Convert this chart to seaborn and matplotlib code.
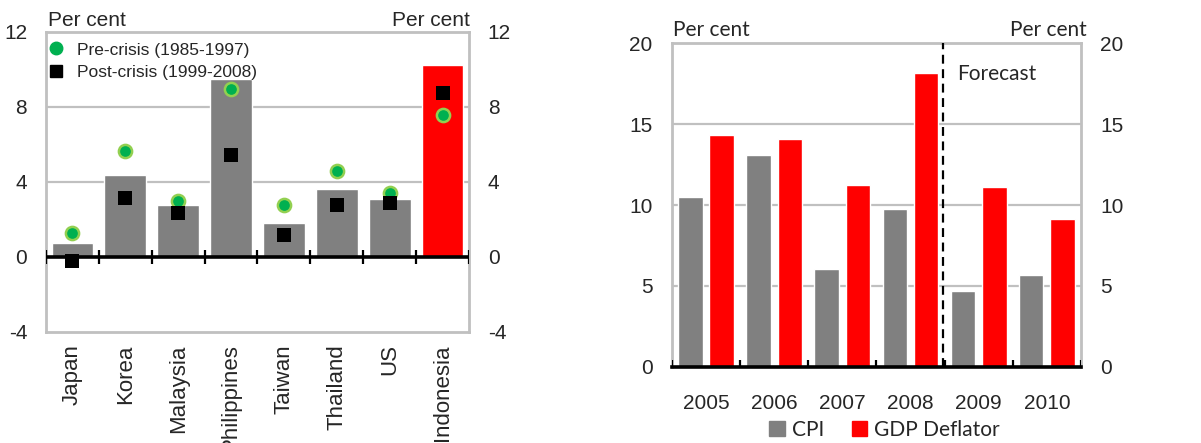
import matplotlib
matplotlib.use("Agg")
import matplotlib.pyplot as plt
import seaborn as sns
import pandas as pd
from matplotlib.lines import Line2D
from matplotlib.patches import Patch

# ---- Left panel data: average inflation by economy ----
countries = ["Japan", "Korea", "Malaysia", "Philippines", "Taiwan", "Thailand", "US", "Indonesia"]
avg_inflation = [0.75, 4.37, 2.77, 9.48, 1.81, 3.63, 3.09, 10.24]
pre_crisis = [1.3, 5.65, 2.99, 8.96, 2.77, 4.59, 3.43, 7.57]
post_crisis = [-0.2, 3.13, 2.36, 5.44, 1.17, 2.77, 2.9, 8.73]
bar_colors = ["#808080"] * 7 + ["#ff0000"]

# ---- Right panel data: Indonesia CPI vs GDP deflator ----
years = ["2005", "2006", "2007", "2008", "2009", "2010"]
cpi = [10.5, 13.09, 6.04, 9.75, 4.68, 5.67]
gdp_deflator = [14.33, 14.08, 11.24, 18.16, 11.09, 9.11]

sns.set_theme(style="white")
plt.rcParams["font.family"] = ["Liberation Sans", "DejaVu Sans"]
plt.rcParams["axes.unicode_minus"] = False

GRID = "#c0c0c0"
GREEN = "#00b050"
GREEN_EDGE = "#92d050"
CAL = ["Lato", "DejaVu Sans"]

fig = plt.figure(figsize=(12.01, 4.43), dpi=100)
ax1 = fig.add_axes([0.0383, 0.2506, 0.3522, 0.6772])
ax2 = fig.add_axes([0.5595, 0.1722, 0.3406, 0.7300])

# ================= Left panel =================
left_df = pd.DataFrame({"country": countries, "value": avg_inflation})
sns.barplot(data=left_df, x="country", y="value", hue="country",
            palette=dict(zip(countries, bar_colors)), legend=False,
            width=0.79, saturation=1, ax=ax1, zorder=2)

pre_df = pd.DataFrame({"country": countries, "value": pre_crisis})
post_df = pd.DataFrame({"country": countries, "value": post_crisis})
sns.stripplot(data=pre_df, x="country", y="value", jitter=False, marker="o",
              color=GREEN, edgecolor=GREEN_EDGE, linewidth=1.8, size=9.5,
              ax=ax1, zorder=4)
sns.stripplot(data=post_df, x="country", y="value", jitter=False, marker="s",
              color="black", linewidth=0, size=9.5, ax=ax1, zorder=5)

ax1.set_xlim(-0.5, len(countries) - 0.5)
ax1.set_ylim(-4, 12)
ax1.set_yticks([-4, 0, 4, 8, 12])
ax1.set_xlabel("")
ax1.set_ylabel("")
for y in [4, 8]:
    ax1.axhline(y, color=GRID, lw=1.6, zorder=1)
ax1.axhline(0, color="black", lw=2.6, zorder=6)
ax1.vlines([i - 0.5 for i in range(len(countries) + 1)], -0.38, 0.38,
           color="black", lw=1.6, zorder=6)
for s in ax1.spines.values():
    s.set_color("#c0c0c0")
    s.set_linewidth(2)
ax1.tick_params(axis="y", length=0, labelsize=15, pad=13.5,
                left=False, labelleft=True, right=False, labelright=True)
ax1.tick_params(axis="x", length=0, labelsize=16, pad=9, labelrotation=90)

handles = [
    Line2D([], [], marker="o", ls="", color=GREEN, markeredgecolor=GREEN, markersize=9),
    Line2D([], [], marker="s", ls="", color="black", markersize=9),
]
ax1.legend(handles, ["Pre-crisis (1985-1997)", "Post-crisis (1999-2008)"],
           loc="upper left", bbox_to_anchor=(-0.018, 1.0), frameon=False,
           fontsize=12.5, handlelength=0.8, handletextpad=0.8,
           labelspacing=0.4, borderaxespad=0.2)

ax1.text(0.005, 1.005, "Per cent", transform=ax1.transAxes, ha="left", va="bottom", fontsize=15)
ax1.text(1.003, 1.005, "Per cent", transform=ax1.transAxes, ha="right", va="bottom", fontsize=15)

# ================= Right panel =================
right_df = pd.DataFrame({
    "year": years * 2,
    "value": cpi + gdp_deflator,
    "series": ["CPI"] * len(years) + ["GDP Deflator"] * len(years),
})
sns.barplot(data=right_df, x="year", y="value", hue="series",
            palette={"CPI": "#808080", "GDP Deflator": "#ff0000"},
            width=0.92, gap=0.22, saturation=1, ax=ax2, zorder=2)

ax2.set_xlim(-0.5, len(years) - 0.5)
ax2.set_ylim(0, 20)
ax2.set_yticks([0, 5, 10, 15, 20])
ax2.set_xlabel("")
ax2.set_ylabel("")
for y in [5, 10, 15]:
    ax2.axhline(y, color=GRID, lw=1.6, zorder=1)
for name in ["top", "left", "right"]:
    ax2.spines[name].set_color("#c0c0c0")
    ax2.spines[name].set_linewidth(2)
ax2.spines["bottom"].set_color("black")
ax2.spines["bottom"].set_linewidth(2.6)
ax2.spines["bottom"].set_zorder(6)
ax2.vlines([i - 0.5 for i in range(len(years) + 1)], 0, 0.4,
           color="black", lw=1.6, zorder=6)

# forecast divider
ax2.axvline(3.47, color="black", lw=1.6, ls=(0, (4, 2.5)), zorder=5)
ax2.text(3.68, 18.1, "Forecast", ha="left", va="center", fontsize=15, family=CAL)

ax2.tick_params(axis="y", length=0, labelsize=15, pad=14,
                left=False, labelleft=True, right=False, labelright=True)
ax2.tick_params(axis="x", length=0, labelsize=15, pad=20)

ax2.text(0.003, 1.01, "Per cent", transform=ax2.transAxes, ha="left", va="bottom",
         fontsize=15, family=CAL)
ax2.text(1.015, 1.01, "Per cent", transform=ax2.transAxes, ha="right", va="bottom",
         fontsize=15, family=CAL)

ax2.legend(handles=[Patch(color="#808080"), Patch(color="#ff0000")],
           labels=["CPI", "GDP Deflator"], loc="center",
           bbox_to_anchor=(0.52, -0.196), ncol=2, frameon=False,
           prop={"family": CAL, "size": 15},
           handlelength=0.75, handleheight=0.75, handletextpad=0.35,
           columnspacing=1.3, borderaxespad=0)

fig.savefig("out.png", dpi=100)
